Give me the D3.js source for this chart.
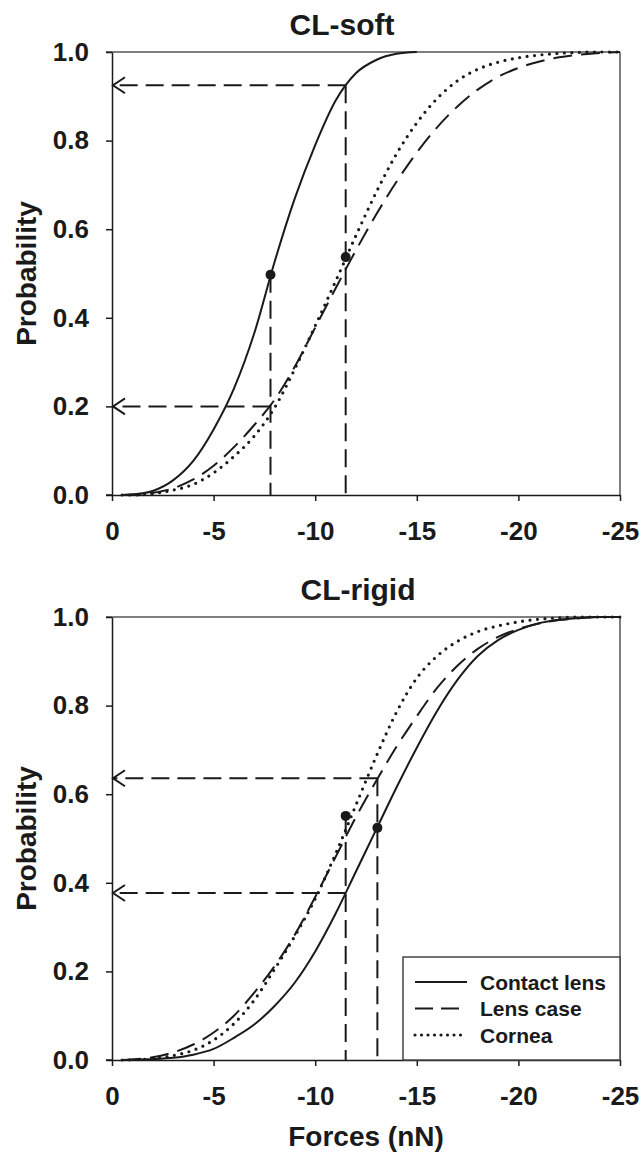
<!DOCTYPE html>
<html>
<head>
<meta charset="utf-8">
<script src="https://cdn.jsdelivr.net/npm/d3@7"></script>
<style>
body{margin:0;background:#fff;}
svg{display:block;}
text{font-family:"Liberation Sans",Arial,sans-serif;font-weight:bold;fill:#1a1a1a;}
</style>
</head>
<body>
<div id="chart"></div>
<script>
// forces in nN (negative), shared x grid for all curves
var forces = [-0.5,-1,-2,-3,-4,-5,-6,-7,-8,-9,-10,-11,-12,-13,-14,-15,-16,-17,-18,-19,-20,-21,-22,-23,-24,-25];

// CL-soft, probability read at each force (contact lens stops at -15)
var softContact = [0,0.001,0.009,0.033,0.077,0.148,0.24,0.365,0.526,0.67,0.79,0.89,0.952,0.982,0.996,1.0];
var softCase    = [0,0.001,0.005,0.015,0.035,0.066,0.108,0.158,0.215,0.29,0.378,0.466,0.552,0.633,0.707,0.773,0.83,0.877,0.915,0.944,0.964,0.978,0.988,0.994,0.998,1.0];
var softCornea  = [0,0,0.003,0.011,0.024,0.05,0.087,0.133,0.197,0.285,0.382,0.482,0.585,0.683,0.77,0.84,0.895,0.935,0.961,0.977,0.987,0.993,0.997,0.999,1.0,1.0];

// CL-rigid
var rigidContact = [0,0.0005,0.002,0.005,0.012,0.025,0.05,0.08,0.122,0.175,0.245,0.33,0.425,0.52,0.615,0.705,0.788,0.858,0.912,0.948,0.971,0.986,0.994,0.998,1.0,1.0];
var rigidCase    = [0,0.001,0.006,0.017,0.035,0.062,0.1,0.152,0.212,0.283,0.368,0.458,0.548,0.63,0.707,0.776,0.84,0.89,0.928,0.955,0.973,0.985,0.993,0.997,1.0,1.0];
var rigidCornea  = [0,0.0005,0.003,0.01,0.022,0.045,0.082,0.135,0.205,0.28,0.364,0.465,0.575,0.685,0.785,0.862,0.912,0.945,0.967,0.98,0.989,0.995,0.998,1.0,1.0,1.0];

// marked points [force, probability]
var softDots  = [[-7.8,0.497],[-11.5,0.537]];
var rigidDots = [[-11.5,0.551],[-13.06,0.524]];

// guide lines: vertical drop [force, from prob] and arrows to the axis [force, prob]
var softDrops   = [[-7.8,0.497],[-11.5,0.925]];
var softArrows  = [[-11.5,0.925],[-7.8,0.2]];
var rigidDrops  = [[-11.5,0.551],[-13.06,0.636]];
var rigidArrows = [[-13.06,0.636],[-11.5,0.377]];

var xTicks = [0,-5,-10,-15,-20,-25];
var yTicks = [0,0.2,0.4,0.6,0.8,1.0];

var legendNames = ['Contact lens','Lens case','Cornea'];

var width = 642, height = 1157;
var left = 112, right = 620, plotH = 443;

var styles = [
	{dash:null, w:2, cap:'butt'},
	{dash:'19 9', w:2, cap:'butt'},
	{dash:'0 7.5', w:3.2, cap:'round'}
];

var svg = d3.select('#chart').append('svg')
	.attr('width', width).attr('height', height);

svg.append('defs').append('marker')
	.attr('id', 'arrow')
	.attr('markerUnits', 'userSpaceOnUse')
	.attr('viewBox', '-14 -10 16 20')
	.attr('refX', 0).attr('refY', 0)
	.attr('markerWidth', 16).attr('markerHeight', 20)
	.attr('orient', 'auto')
	.append('path')
	.attr('d', 'M-12,-8L0,0L-12,8')
	.attr('fill', 'none')
	.attr('stroke', '#1a1a1a')
	.attr('stroke-width', 2);

var x = d3.scaleLinear().domain([0, -25]).range([left, right]);

function drawPanel(top, title, titleX, series, dots, drops, arrows, withLegend){
	var y = d3.scaleLinear().domain([0, 1]).range([top + plotH, top]);
	var g = svg.append('g');

	// frame top and right
	g.append('line').attr('x1', left - 6).attr('x2', right).attr('y1', top).attr('y2', top)
		.attr('stroke', '#555').attr('stroke-width', 1.5);
	g.append('line').attr('x1', right).attr('x2', right).attr('y1', top).attr('y2', top + plotH)
		.attr('stroke', '#555').attr('stroke-width', 1.5);

	var yAxis = g.append('g').attr('transform', 'translate(' + left + ',0)')
		.call(d3.axisLeft(y).tickValues(yTicks).tickSize(6).tickSizeOuter(0).tickPadding(17)
			.tickFormat(d3.format('.1f')));
	var xAxis = g.append('g').attr('transform', 'translate(0,' + (top + plotH) + ')')
		.call(d3.axisBottom(x).tickValues(xTicks).tickSize(6).tickSizeOuter(0).tickPadding(21)
			.tickFormat(function(d){ return String(d); }));
	[yAxis, xAxis].forEach(function(a){
		a.select('.domain').attr('stroke', '#1a1a1a').attr('stroke-width', 1.5);
		a.selectAll('.tick line').attr('stroke', '#1a1a1a').attr('stroke-width', 1.5);
		a.selectAll('.tick text').attr('font-size', 26).attr('fill', '#1a1a1a');
	});
	// base line extends left like the ticks
	g.append('line').attr('x1', left - 6).attr('x2', left).attr('y1', top + plotH).attr('y2', top + plotH)
		.attr('stroke', '#1a1a1a').attr('stroke-width', 1.5);

	g.append('text').attr('x', titleX).attr('y', top - 17)
		.attr('text-anchor', 'middle').attr('font-size', 30).text(title);

	g.append('text')
		.attr('transform', 'translate(36,' + (top + plotH / 2) + ') rotate(-90)')
		.attr('text-anchor', 'middle').attr('font-size', 28).text('Probability');

	// guide lines
	g.selectAll('.drop').data(drops).enter().append('line')
		.attr('class', 'drop')
		.attr('x1', function(d){ return x(d[0]); }).attr('x2', function(d){ return x(d[0]); })
		.attr('y1', function(d){ return y(d[1]); }).attr('y2', y(0))
		.attr('stroke', '#1a1a1a').attr('stroke-width', 2).attr('stroke-dasharray', '18 8');
	g.selectAll('.arrow').data(arrows).enter().append('line')
		.attr('class', 'arrow')
		.attr('x1', function(d){ return x(d[0]); }).attr('x2', x(0) + 1)
		.attr('y1', function(d){ return y(d[1]); }).attr('y2', function(d){ return y(d[1]); })
		.attr('stroke', '#1a1a1a').attr('stroke-width', 2).attr('stroke-dasharray', '18 8')
		.attr('marker-end', 'url(#arrow)');

	var line = d3.line()
		.x(function(d){ return x(d[0]); })
		.y(function(d){ return y(d[1]); })
		.curve(d3.curveMonotoneX);

	series.forEach(function(vals, i){
		var pts = vals.map(function(v, j){ return [forces[j], v]; });
		g.append('path').datum(pts)
			.attr('d', line)
			.attr('fill', 'none')
			.attr('stroke', '#1a1a1a')
			.attr('stroke-width', styles[i].w)
			.attr('stroke-linecap', styles[i].cap)
			.attr('stroke-dasharray', styles[i].dash);
	});

	g.selectAll('.dot').data(dots).enter().append('circle')
		.attr('class', 'dot')
		.attr('cx', function(d){ return x(d[0]); })
		.attr('cy', function(d){ return y(d[1]); })
		.attr('r', 5).attr('fill', '#1a1a1a');

	if(withLegend){
		var lg = g.append('g');
		lg.append('rect').attr('x', 403).attr('y', y(0) - 103).attr('width', right - 403).attr('height', 103)
			.attr('fill', '#fff').attr('stroke', '#444').attr('stroke-width', 1.5);
		legendNames.forEach(function(name, i){
			var yy = y(0) - 78 + i * 26.5;
			lg.append('line').attr('x1', 415).attr('x2', 467).attr('y1', yy).attr('y2', yy)
				.attr('stroke', '#1a1a1a')
				.attr('stroke-width', styles[i].w)
				.attr('stroke-linecap', styles[i].cap)
				.attr('stroke-dasharray', i === 1 ? '18 8' : (i === 2 ? '0 6.5' : null));
			lg.append('text').attr('x', 480).attr('y', yy + 7.5)
				.attr('font-size', 21).text(name);
		});
	}
	return g;
}

drawPanel(52, 'CL-soft', 342, [softContact, softCase, softCornea], softDots, softDrops, softArrows, false);
drawPanel(617, 'CL-rigid', 358, [rigidContact, rigidCase, rigidCornea], rigidDots, rigidDrops, rigidArrows, true);

svg.append('text').attr('x', 366).attr('y', 1146)
	.attr('text-anchor', 'middle').attr('font-size', 28).text('Forces (nN)');
</script>
</body>
</html>
